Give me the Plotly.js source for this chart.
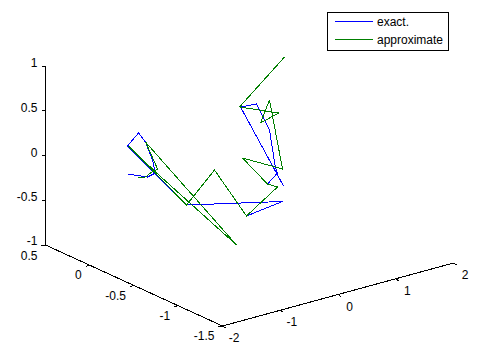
<!DOCTYPE html>
<html>
<head>
<meta charset="utf-8">
<script src="https://cdn.plot.ly/plotly-3.0.1.min.js"></script>
<style>
html,body{margin:0;padding:0;background:#fff}
#chart{width:487px;height:355px}
.scatterlayer path,.shapelayer path{shape-rendering:crispEdges}
</style>
</head>
<body>
<div id="chart"></div>
<script>
// Path values, on the view plane of the 3-D plot
var exactH = [127,138,147,155,152,145,138,127,186,282,246,277,267,277,275,269,256,240,283];
var exactV = [174,176,177,173,160,142,133,146,205,201.5,216,187,184,173,168,130,104,107,186];
var approxH = [138,145,150,157,154,145,236,155,128,186,214,246,277,267,242,282,269,260,278,239,284];
var approxV = [178,177,173,169,162,142,245,172,146,205,170,216,187,184,158,169,100,123,113,107,57];

// Axis tick values and labels
var xTicks = [-2,-1,0,1,2];
var yTicks = [0.5,0,-0.5,-1,-1.5];
var zTicks = [1,0.5,0,-0.5,-1];
var xLabels = ['-2','-1','0','1','2'];
var yLabels = ['0.5','0','-0.5','-1','-1.5'];
var zLabels = ['1','0.5','0','-0.5','-1'];
var seriesNames = ['exact.','approximate'];
var seriesColors = ['#0000ff','#007f00'];

// View projection of the axes box
function project(x,y,z){
  return [222 + (x+2)*57.75 + (y+1.5)*(-88.5),
          326 + (x+2)*(-15.75) + (y+1.5)*(-40.5) + (z+1)*(-89.5)];
}
var xEnd = [2,-1.5,-1], corner = [-2,-1.5,-1], yEnd = [-2,0.5,-1], zEnd = [-2,0.5,1];
var axH = [], axV = [];
function seg(a,b){ var p=project.apply(null,a), q=project.apply(null,b); axH.push(p[0],q[0],null); axV.push(p[1],q[1],null); }
seg(corner,xEnd); seg(corner,yEnd); seg(yEnd,zEnd);

var tickH = [], tickV = [];
function tick(p,dx,dy){ tickH.push(p[0],p[0]+dx,null); tickV.push(p[1],p[1]+dy,null); }
var xlH=[], xlV=[], ylH=[], ylV=[], zlH=[], zlV=[];
xTicks.forEach(function(v){ var p=project(v,-1.5,-1); tick(p,3,2); xlH.push(p[0]+11.5); xlV.push(p[1]+13); });
yTicks.forEach(function(v){ var p=project(-2,v,-1); tick(p,-4,1); ylH.push(p[0]-8); ylV.push(p[1]+(v===0.5?12:11)); });
zTicks.forEach(function(v){ var p=project(-2,0.5,v); tick(p,-4,0); zlH.push(37); zlV.push(p[1]-(v===-1?3.5:2)); });

var fontTxt = {family:'"Liberation Sans", Arial, sans-serif', size:12, color:'#000'};
function textTrace(x,y,t,pos){ return {type:'scatter',mode:'text',x:x,y:y,text:t,textposition:pos,textfont:fontTxt,showlegend:false,hoverinfo:'skip',cliponaxis:false}; }
var traces = [
  {type:'scatter',mode:'lines',x:axH,y:axV,line:{color:'#000',width:1},showlegend:false,hoverinfo:'skip'},
  {type:'scatter',mode:'lines',x:tickH,y:tickV,line:{color:'#000',width:1},showlegend:false,hoverinfo:'skip'},
  textTrace(xlH,xlV,xLabels,'middle center'),
  textTrace(ylH,ylV,yLabels,'middle left'),
  textTrace(zlH,zlV,zLabels,'middle left'),
  {type:'scatter',mode:'lines',name:seriesNames[0],x:exactH,y:exactV,line:{color:seriesColors[0],width:1}},
  {type:'scatter',mode:'lines',name:seriesNames[1],x:approxH,y:approxV,line:{color:seriesColors[1],width:1}}
];
var legendRows = [21,39];
var layout = {
  width:487,height:355,margin:{l:0,r:0,t:0,b:0},
  paper_bgcolor:'#fff',plot_bgcolor:'#fff',
  xaxis:{range:[-0.5,486.5],visible:false,fixedrange:true},
  yaxis:{range:[355,0],visible:false,fixedrange:true},
  showlegend:false,
  shapes:[{type:'rect',xref:'x',yref:'y',x0:327,x1:448,y0:12,y1:50,line:{color:'#000',width:1},fillcolor:'#fff',layer:'above'}]
    .concat(legendRows.map(function(r,i){ return {type:'line',xref:'x',yref:'y',x0:334,x1:372,y0:r,y1:r,line:{color:seriesColors[i],width:1},layer:'above'}; })),
  annotations:legendRows.map(function(r,i){ return {xref:'x',yref:'y',x:377,y:r+1,text:seriesNames[i],showarrow:false,xanchor:'left',yanchor:'middle',xshift:-3,font:fontTxt}; })
};
Plotly.newPlot('chart',traces,layout,{displayModeBar:false,staticPlot:true});
</script>
</body>
</html>
